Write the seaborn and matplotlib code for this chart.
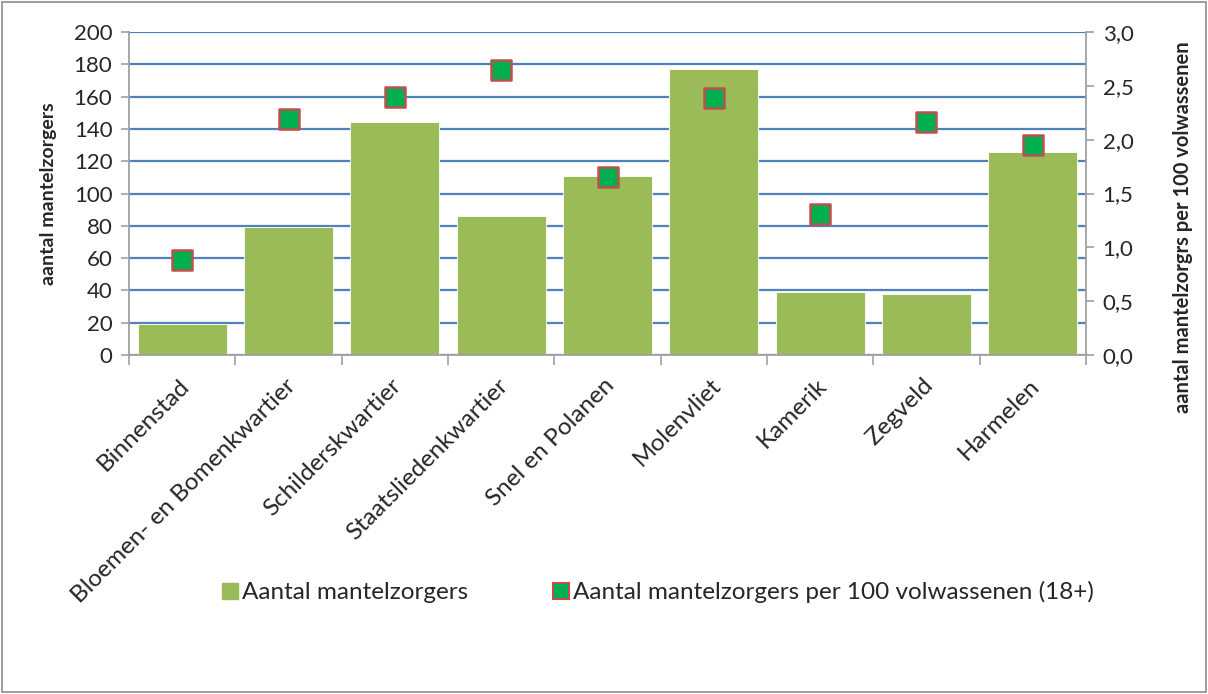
import matplotlib
matplotlib.use("Agg")
import matplotlib.pyplot as plt
import matplotlib.transforms as mtransforms
from matplotlib.patches import Rectangle
from matplotlib.lines import Line2D
import seaborn as sns
import pandas as pd
import numpy as np

categories = ["Binnenstad", "Bloemen- en Bomenkwartier", "Schilderskwartier",
              "Staatsliedenkwartier", "Snel en Polanen", "Molenvliet",
              "Kamerik", "Zegveld", "Harmelen"]
aantal = [19, 79, 144, 86, 111, 177, 39, 38, 126]
per100 = [0.88, 2.19, 2.40, 2.65, 1.65, 2.39, 1.31, 2.16, 1.95]
left_ticks = [0, 20, 40, 60, 80, 100, 120, 140, 160, 180, 200]
right_ticks = [0.0, 0.5, 1.0, 1.5, 2.0, 2.5, 3.0]
right_tick_labels = ["0,0", "0,5", "1,0", "1,5", "2,0", "2,5", "3,0"]
label_bar = "Aantal mantelzorgers"
label_pt = "Aantal mantelzorgers per 100 volwassenen (18+)"

sns.set_theme(style="white")
plt.rcParams['font.family'] = ['Lato', 'DejaVu Sans']

df = pd.DataFrame({"wijk": categories, "aantal": aantal, "per100": per100})

fig = plt.figure(figsize=(12.08, 6.94), dpi=100)
W, H = 1208, 694
ax = fig.add_axes([129 / W, 1 - 355 / H, (1086 - 129) / W, (355 - 32) / H])

bar_color = "#9BBB59"
sns.barplot(data=df, x="wijk", y="aantal", color=bar_color, ax=ax,
            width=0.84, saturation=1, edgecolor="white", linewidth=0.6)
ax.set_ylim(0, 200)
ax.set_xlim(-0.5, len(categories) - 0.5)
ax.set_yticks(left_ticks)
ax.yaxis.grid(True, color="#4F81BD", linewidth=1.6)
ax.set_axisbelow(True)
ax.set_xlabel("")
ax.set_ylabel("aantal mantelzorgers", fontsize=14, fontweight="bold", labelpad=12)

ax2 = ax.twinx()
sns.scatterplot(data=df, x="wijk", y="per100", ax=ax2, marker="s", s=190,
                color="#00B050", edgecolor="#C0504D", linewidth=1.8, zorder=5)
ax2.set_ylim(0, 3.0)
ax2.set_yticks(right_ticks)
ax2.set_yticklabels(right_tick_labels)
ax2.set_ylabel("aantal mantelzorgrs per 100 volwassenen", fontsize=14.5,
               fontweight="bold")
ax2.yaxis.set_label_coords((1183 - 129) / (1086 - 129), (355 - 227) / (355 - 32))
ax2.yaxis.label.set_va("center")
ax2.set_xlim(-0.5, len(categories) - 0.5)

spine_c = "#A0A0A0"
for a in (ax, ax2):
    a.spines["top"].set_visible(False)
    for s in ("left", "right", "bottom"):
        a.spines[s].set_color(spine_c)
        a.spines[s].set_linewidth(1.3)
ax.spines["right"].set_visible(False)
ax2.spines["left"].set_visible(False)
ax2.spines["bottom"].set_visible(False)

ax.tick_params(axis="y", direction="out", length=6, color=spine_c, width=1.2,
               labelsize=16, left=True, pad=6)
ax2.tick_params(axis="y", direction="out", length=6, color=spine_c, width=1.2,
                labelsize=16, right=True, pad=6)

# x tick labels at centers, tick marks at boundaries
ax.set_xticks(range(len(categories)))
ax.set_xticklabels(categories, rotation=45, ha="right", rotation_mode="anchor",
                   fontsize=17.5)
ax.tick_params(axis="x", which="major", length=0, pad=10)
ax.set_xticks(np.arange(-0.5, len(categories)), minor=True)
ax.tick_params(axis="x", which="minor", direction="out", length=7,
               color=spine_c, width=1.2, bottom=True)
offset = mtransforms.ScaledTranslation(-4 / 100, -6 / 100, fig.dpi_scale_trans)
for lab in ax.get_xticklabels():
    lab.set_transform(lab.get_transform() + offset)

for a in (ax, ax2):
    leg = a.get_legend()
    if leg:
        leg.remove()

handles = [
    Line2D([], [], marker="s", linestyle="none", markersize=11,
           markerfacecolor=bar_color, markeredgecolor=bar_color),
    Line2D([], [], marker="s", linestyle="none", markersize=11,
           markerfacecolor="#00B050", markeredgecolor="#C0504D", markeredgewidth=1.5),
]
fig.legend(handles, [label_bar, label_pt], loc="center",
           bbox_to_anchor=(656 / W, 1 - 592 / H), ncol=2, frameon=False,
           fontsize=17.5, handletextpad=0.0, columnspacing=3.3, handlelength=1.0)

fig.patches.append(Rectangle((2 / W, 2 / H), 1 - 4 / W, 1 - 4 / H,
                             transform=fig.transFigure, fill=False,
                             edgecolor="#8C8C8C", linewidth=1.2))

fig.savefig("out.png", dpi=100)
